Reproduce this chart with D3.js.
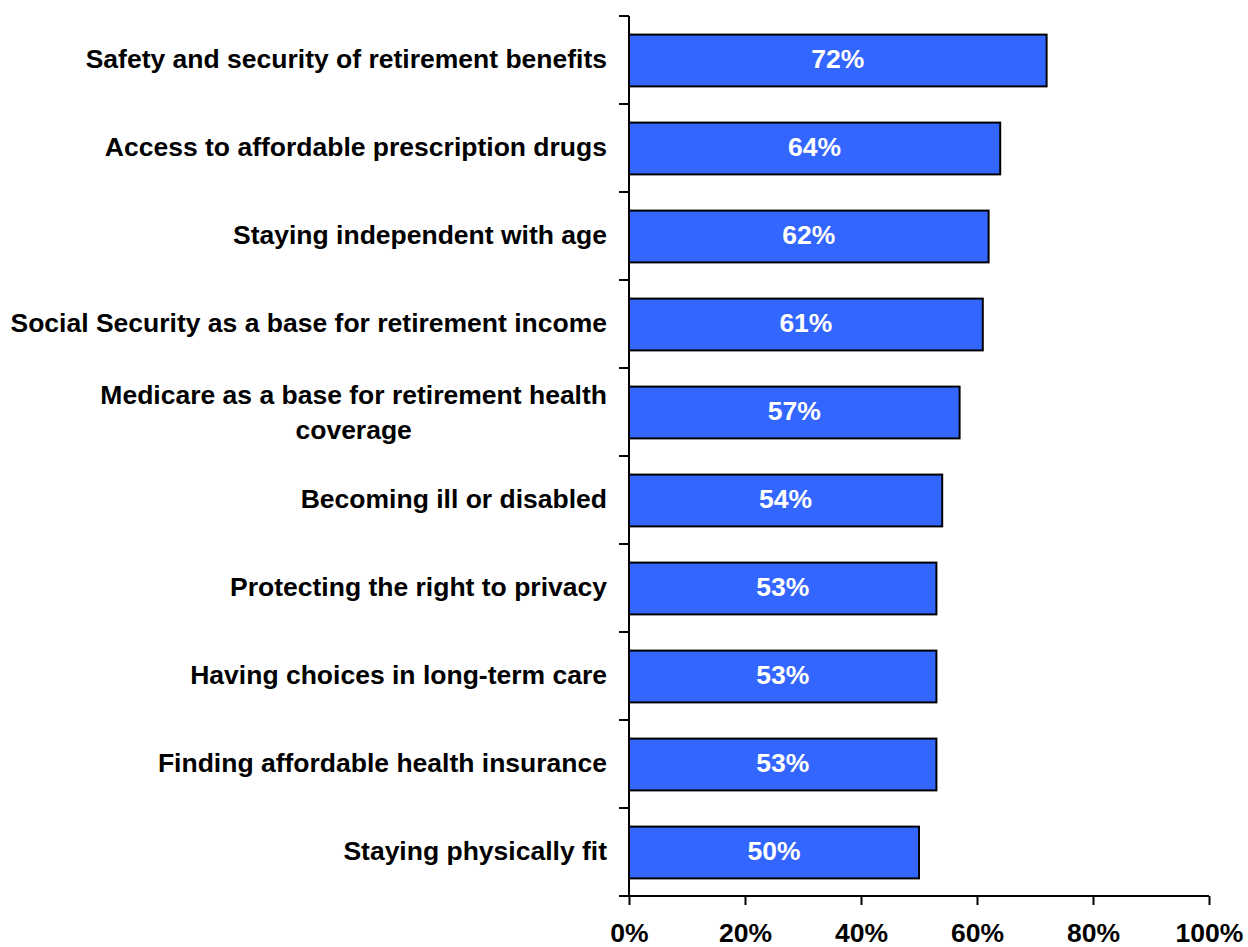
<!DOCTYPE html>
<html>
<head>
<meta charset="utf-8">
<script src="https://cdn.jsdelivr.net/npm/d3@7"></script>
<style>
  body { margin: 0; background: #fff; }
  svg { font-family: "Liberation Sans", Arial, sans-serif; font-weight: bold; }
</style>
</head>
<body>
<svg id="chart" width="1248" height="947"></svg>
<script>
// categories top to bottom, values in percent
const categories = [
    "Safety and security of retirement benefits",
    "Access to affordable prescription drugs",
    "Staying independent with age",
    "Social Security as a base for retirement income",
    "Medicare as a base for retirement health|coverage",
    "Becoming ill or disabled",
    "Protecting the right to privacy",
    "Having choices in long-term care",
    "Finding affordable health insurance",
    "Staying physically fit"
];
const values = [72, 64, 62, 61, 57, 54, 53, 53, 53, 50];
const xTicks = [0, 20, 40, 60, 80, 100];

const svg = d3.select("#chart");
const plotLeft = 629, plotRight = 1209, plotTop = 16, plotBottom = 896;
const fontSize = 26.5;

const x = d3.scaleLinear().domain([0, 100]).range([plotLeft, plotRight]);
const y = d3.scaleBand()
    .domain(categories)
    .range([plotTop, plotBottom])
    .paddingInner(0.4)
    .paddingOuter(0.2);
const step = y.step();

// bars
svg.selectAll("rect.bar")
    .data(categories)
    .enter().append("rect")
    .attr("class", "bar")
    .attr("x", x(0))
    .attr("y", d => y(d) + 1)
    .attr("width", (d, i) => x(values[i]) - x(0))
    .attr("height", y.bandwidth() - 1)
    .attr("fill", "#3366FF")
    .attr("stroke", "#000")
    .attr("stroke-width", 2);

// value labels inside bars
svg.selectAll("text.val")
    .data(categories)
    .enter().append("text")
    .attr("class", "val")
    .attr("x", (d, i) => (x(0) + x(values[i])) / 2)
    .attr("y", d => y(d) + y.bandwidth() / 2 + 1)
    .attr("text-anchor", "middle")
    .attr("dominant-baseline", "middle")
    .attr("font-size", fontSize)
    .attr("fill", "#fff")
    .text((d, i) => values[i] + "%");

// y axis line + ticks at band boundaries
svg.append("line")
    .attr("x1", plotLeft).attr("x2", plotLeft)
    .attr("y1", plotTop).attr("y2", plotBottom)
    .attr("stroke", "#000").attr("stroke-width", 2);

const boundaries = categories.map(c => y(c) - step * 0.2).concat([plotBottom]);
svg.selectAll("line.ytick")
    .data(boundaries)
    .enter().append("line")
    .attr("class", "ytick")
    .attr("x1", plotLeft - 10).attr("x2", plotLeft)
    .attr("y1", d => d).attr("y2", d => d)
    .attr("stroke", "#000").attr("stroke-width", 2);

// category labels
categories.forEach(c => {
    const lines = c.split("|");
    const cy = y(c) + y.bandwidth() / 2;
    const lh = 35;
    const t = svg.append("text")
        .attr("font-size", fontSize)
        .attr("fill", "#000")
        .attr("text-anchor", "middle")
        .attr("dominant-baseline", "middle");
    if (lines.length === 1) {
        t.attr("text-anchor", "end")
            .attr("x", 607)
            .attr("y", cy + 1)
            .text(c);
    } else {
        lines.forEach((ln, i) => {
            t.append("tspan")
                .attr("x", 0)
                .attr("y", cy - lh / 2 + i * lh + 2)
                .text(ln);
        });
        // centre the block so its widest line ends at 607
        const w = t.node().getBBox().width;
        t.selectAll("tspan").attr("x", 607 - w / 2);
    }
});

// x axis
const xAxis = svg.append("g")
    .attr("transform", `translate(0,${plotBottom})`)
    .call(d3.axisBottom(x).tickValues(xTicks).tickSize(9).tickFormat(d => d + "%"));
xAxis.select(".domain").attr("stroke", "#000").attr("stroke-width", 2)
    .attr("d", `M${plotLeft},0H${plotRight}`);
xAxis.selectAll(".tick line").attr("stroke", "#000").attr("stroke-width", 2);
xAxis.selectAll(".tick text")
    .attr("font-family", "Liberation Sans, Arial, sans-serif")
    .attr("font-weight", "bold")
    .attr("font-size", fontSize)
    .attr("fill", "#000")
    .attr("dy", null)
    .attr("y", 39)
    .attr("dominant-baseline", "middle");
</script>
</body>
</html>
